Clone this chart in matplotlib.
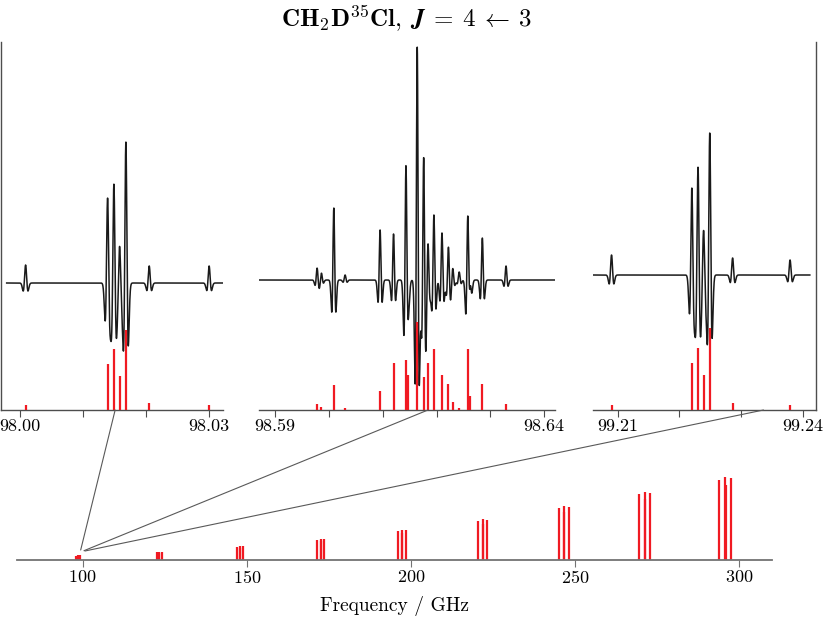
"""
CH2D35Cl J = 4 <- 3 hyperfine structure with the overview stick spectrum.
"""

import matplotlib.pyplot as plt
import numpy as np
from matplotlib.patches import ConnectionPatch

plt.rcParams["font.family"] = "serif"
plt.rcParams["font.serif"] = ["cmr10"]
plt.rcParams["mathtext.fontset"] = "cm"
plt.rcParams["axes.formatter.use_mathtext"] = True

# --- zoomed panels: hyperfine components (GHz) ---
# stick intensity and observed (2nd-derivative) peak height, arb. units
k0_freq = [98.0009, 98.0139, 98.0149, 98.0158, 98.0168, 98.0205, 98.0300]
k0_stick = [5, 46, 61, 34, 80, 7, 5]
k0_peak = [18, 85, 99, 37, 141, 17, 17]

k1_freq = [98.5978, 98.5986, 98.6009, 98.6030, 98.6095, 98.6120, 98.6143,
           98.6146, 98.6164, 98.6176, 98.6184, 98.6195, 98.6210, 98.6222,
           98.6230, 98.6242, 98.6258, 98.6262, 98.6285, 98.6329]
k1_stick = [5.7, 2.7, 25, 2, 19, 47, 50, 35, 88, 33, 47, 61, 35, 26,
            8, 2, 61, 14, 26, 5.7]
k1_peak = [12, 7, 72, 5, 50, 46, 121, 20, 233, 123, 38, 65, 47, 33,
           12, 8, 75, 25, 42, 14]

k2_freq = [99.2090, 99.2220, 99.2230, 99.2239, 99.2249, 99.2286, 99.2379]
k2_stick = [5, 47, 62, 35, 82, 7, 5]
k2_peak = [20, 87, 108, 45, 142, 17, 15]

panel_xlim = [(97.9970, 98.0322), (98.5870, 98.6420), (99.2060, 99.2421)]
panel_ticks = [[98.00, 98.01, 98.02, 98.03],
               [98.59, 98.60, 98.61, 98.62, 98.63, 98.64],
               [99.21, 99.22, 99.23, 99.24]]
panel_ticklabels = [["98.00", "", "", "98.03"],
                    ["98.59", "", "", "", "", "98.64"],
                    ["99.21", "", "", "99.24"]]
trace_span = [(97.9979, 98.0322), (98.5870, 98.6420), (99.2060, 99.2411)]
trace_offset = [127, 130, 135]
line_sigma = 0.00022  # GHz

# --- overview: rotational clusters J+1 <- J (GHz, arb. units) ---
f_lo = [98.015, 122.51, 147.01, 171.51, 196.01, 220.51, 245.01, 269.51, 294.00]
f_mid = [98.618, 123.27, 147.92, 172.57, 197.22, 221.87, 246.52, 271.17, 295.82]
f_mid2 = [98.680, 123.35, 148.02, 172.69, 197.36, 222.03, 246.70, 271.37, 296.04]
f_hi = [99.224, 124.03, 148.83, 173.63, 198.43, 223.23, 248.03, 272.83, 297.64]
i_lo = [4.5, 8.0, 13.0, 20.0, 29.0, 39.3, 51.7, 65.7, 80.3]
i_mid = [4.7, 8.3, 14.0, 21.3, 30.5, 41.0, 54.0, 68.0, 83.3]
i_mid2 = [4.2, 7.5, 12.5, 19.0, 27.0, 36.5, 48.0, 61.0, 75.0]
i_hi = [4.6, 8.2, 13.7, 20.7, 29.7, 40.0, 52.7, 67.0, 82.3]

# zoom connectors: point on each panel axis -> point in overview
conn_top = [98.0151, 98.6184, 99.2336]
conn_bot_freq = [99.4, 100.4, 100.7]
conn_bot_int = [10.0, 9.3, 9.0]

RED = "#f01a22"
SPINE = "0.3"


def second_derivative(f, centers, peaks, sigma):
    y = np.zeros_like(f)
    for c, a in zip(centers, peaks):
        u = (f - c) / sigma
        y += a * (1 - u**2) * np.exp(-0.5 * u**2)
    return y


fig = plt.figure(figsize=(8.23, 6.19), dpi=100)

panel_rects = [
    [1 / 823, 1 - 410 / 619, 222 / 823, 368 / 619],
    [259 / 823, 1 - 410 / 619, 296 / 823, 368 / 619],
    [593 / 823, 1 - 410 / 619, 223 / 823, 368 / 619],
]
panel_data = [(k0_freq, k0_stick, k0_peak),
              (k1_freq, k1_stick, k1_peak),
              (k2_freq, k2_stick, k2_peak)]

top_axes = []
for i, rect in enumerate(panel_rects):
    ax = fig.add_axes(rect)
    freq, stick, peak = panel_data[i]

    f = np.linspace(*trace_span[i], 4000)
    trace = trace_offset[i] + second_derivative(f, freq, peak, line_sigma)
    ax.plot(f, trace, color="#1a1a1a", linewidth=1.1, zorder=2)
    ax.vlines(freq, 0, stick, color=RED, linewidth=1.6, zorder=3)

    ax.set_xlim(*panel_xlim[i])
    ax.set_ylim(0, 368)
    ax.set_xticks(panel_ticks[i])
    ax.set_xticklabels(panel_ticklabels[i])
    ax.set_yticks([])
    ax.tick_params(axis="x", direction="out", length=5, width=0.8,
                   color=SPINE, labelsize=13, pad=1.5)
    ax.spines["top"].set_visible(False)
    ax.spines["left"].set_visible(i == 0)
    ax.spines["right"].set_visible(i == 2)
    for side in ["bottom", "left", "right"]:
        ax.spines[side].set_color(SPINE)
        ax.spines[side].set_linewidth(1.0)
    ax.patch.set_alpha(0)
    top_axes.append(ax)

# overview spectrum
axb = fig.add_axes([17 / 823, 1 - 560 / 619, 755 / 823, 90 / 619])
for freqs, ints in [(f_lo, i_lo), (f_mid, i_mid), (f_mid2, i_mid2), (f_hi, i_hi)]:
    axb.vlines(freqs, 0, ints, color=RED, linewidth=1.6)
axb.set_xlim(80, 310)
axb.set_ylim(0, 90)
axb.set_xticks([100, 150, 200, 250, 300])
axb.set_yticks([])
axb.tick_params(axis="x", direction="out", length=5, width=0.8,
                color="0.45", labelsize=13, pad=1.5)
for side in ["top", "left", "right"]:
    axb.spines[side].set_visible(False)
axb.spines["bottom"].set_color("0.45")
axb.spines["bottom"].set_linewidth(1.3)
axb.patch.set_alpha(0)
axb.set_xlabel("Frequency / GHz", fontsize=14, labelpad=7)

for ax, ft, fb, yb in zip(top_axes, conn_top, conn_bot_freq, conn_bot_int):
    con = ConnectionPatch(xyA=(ft, 0), coordsA=ax.transData,
                          xyB=(fb, yb), coordsB=axb.transData,
                          color="0.35", linewidth=0.8)
    fig.add_artist(con)

title = (r"$\mathbf{CH}_{\mathbf{2}}\mathbf{D}^{\mathbf{35}}\mathbf{Cl},\;"
         r"\mathbfit{J}\:\mathbf{=}\:\mathbf{4}\:\leftarrow\:\mathbf{3}$")
fig.text(0.494, 0.970, title, ha="center", va="center", fontsize=18)

fig.savefig("out.png", dpi=100)
